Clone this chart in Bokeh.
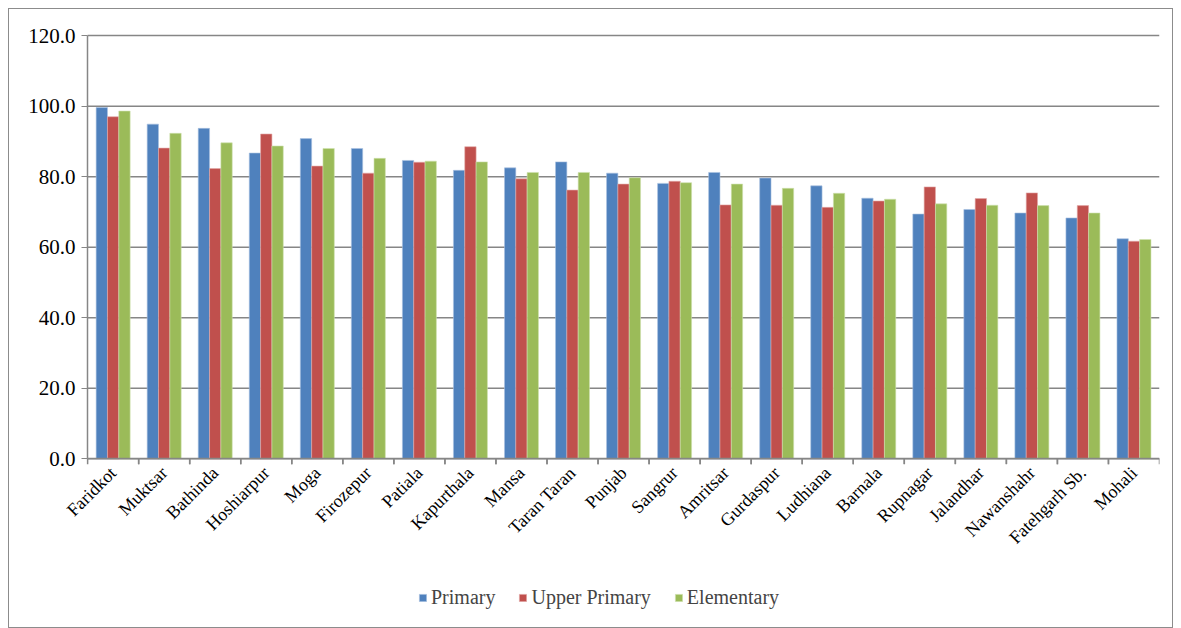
from math import pi
from bokeh.plotting import figure
from bokeh.models import (ColumnDataSource, Range1d, Legend, LegendItem, FixedTicker,
                          CustomJSTickFormatter)
from bokeh.transform import dodge
from bokeh.embed import file_html
from bokeh.resources import INLINE

districts = ["Faridkot", "Muktsar", "Bathinda", "Hoshiarpur", "Moga", "Firozepur", "Patiala",
             "Kapurthala", "Mansa", "Taran Taran", "Punjab", "Sangrur", "Amritsar", "Gurdaspur",
             "Ludhiana", "Barnala", "Rupnagar", "Jalandhar", "Nawanshahr", "Fatehgarh Sb.", "Mohali"]
primary = [99.6, 94.9, 93.7, 86.7, 90.8, 88.0, 84.6, 81.8, 82.5, 84.2, 81.0,
           78.1, 81.2, 79.6, 77.4, 73.9, 69.4, 70.7, 69.7, 68.3, 62.4]
upper_primary = [97.0, 88.1, 82.3, 92.1, 83.0, 81.0, 84.1, 88.5, 79.4, 76.2, 77.9,
                 78.7, 72.0, 71.9, 71.3, 73.1, 77.1, 73.8, 75.4, 71.8, 61.7]
elementary = [98.6, 92.3, 89.6, 88.7, 88.0, 85.2, 84.4, 84.2, 81.2, 81.2, 79.7,
              78.3, 77.9, 76.7, 75.3, 73.6, 72.3, 71.9, 71.8, 69.7, 62.2]
series_names = ["Primary", "Upper Primary", "Elementary"]
colors = ["#4F81BD", "#C0504D", "#9BBB59"]
y_ticks = [0, 20, 40, 60, 80, 100, 120]

n = len(districts)
xpos = list(range(n))
left_edge, right_edge = -0.5, n - 0.5

src = ColumnDataSource(dict(x=xpos, p=primary, u=upper_primary, e=elementary,
                            zero=[0] * n, tick=[-1.5] * n))
grid_src = ColumnDataSource(dict(y=y_ticks, x0=[left_edge] * len(y_ticks),
                                 x1=[right_edge] * len(y_ticks)))

# the frame extends left of the first category, above 120 and below zero so that the
# tick labels, rotated labels and the legend are not clipped; axes are pinned in place
p = figure(x_range=Range1d(left_edge - 1.315, right_edge), y_range=Range1d(-48.1, 124),
           width=1165, height=620, output_backend="svg", toolbar_location=None,
           min_border_left=11, min_border_right=15, min_border_top=12, min_border_bottom=1)
p.styles = {"border": "1px solid #8c8c8c", "box-sizing": "border-box",
            "margin-left": "8px", "margin-top": "8px"}
p.outline_line_color = None
p.background_fill_color = "white"
p.xgrid.visible = False
p.ygrid.visible = False

# horizontal gridlines spanning the category area only
p.segment(x0="x0", y0="y", x1="x1", y1="y", source=grid_src,
          line_color="#868686", line_width=1.5)

bw = 0.222
r1 = p.vbar(x=dodge("x", -bw), top="p", width=bw, source=src,
            fill_color=colors[0], line_color="#a9c1e0", line_width=0.6)
r2 = p.vbar(x=dodge("x", 0), top="u", width=bw, source=src,
            fill_color=colors[1], line_color="#e3a9a7", line_width=0.6)
r3 = p.vbar(x=dodge("x", bw), top="e", width=bw, source=src,
            fill_color=colors[2], line_color="#cfe0ae", line_width=0.6)

# value axis
p.yaxis.fixed_location = left_edge
p.yaxis.ticker = FixedTicker(ticks=y_ticks)
p.yaxis.bounds = (0, 120)
p.yaxis.formatter = CustomJSTickFormatter(code="return tick.toFixed(1);")
p.yaxis.minor_tick_line_color = None
p.yaxis.major_tick_in = 0
p.yaxis.major_tick_out = 6
p.yaxis.axis_line_color = "#868686"
p.yaxis.major_tick_line_color = "#868686"
p.yaxis.axis_line_width = 1.5
p.yaxis.major_label_text_font = "Liberation Serif"
p.yaxis.major_label_text_font_size = "21px"
p.yaxis.major_label_text_color = "black"
p.yaxis.major_label_standoff = 6

# category axis at y = 0
p.xaxis.fixed_location = 0
p.xaxis.bounds = (left_edge, right_edge)
p.xaxis.ticker = FixedTicker(ticks=xpos)
p.xaxis.formatter = CustomJSTickFormatter(args=dict(names=districts),
                                          code="return names[Math.round(tick)];")
p.xaxis.axis_line_color = "#868686"
p.xaxis.axis_line_width = 1.5
p.xaxis.major_tick_line_color = None
p.xaxis.minor_tick_line_color = None
p.xaxis.major_label_orientation = pi / 4
p.xaxis.major_label_text_font = "Liberation Serif"
p.xaxis.major_label_text_font_size = "18px"
p.xaxis.major_label_text_color = "black"
p.xaxis.major_label_standoff = 5

# tick marks at the category boundaries
p.segment(x0=dodge("x", -0.5), y0="zero", x1=dodge("x", -0.5), y1="tick", source=src,
          line_color="#868686", line_width=1.5)
p.segment(x0=dodge("x", 0.5), y0="zero", x1=dodge("x", 0.5), y1="tick", source=src,
          line_color="#868686", line_width=1.5)

legend = Legend(items=[LegendItem(label=series_names[0], renderers=[r1]),
                       LegendItem(label=series_names[1], renderers=[r2]),
                       LegendItem(label=series_names[2], renderers=[r3])],
                orientation="horizontal", location=(398, 19),
                label_text_font="Liberation Serif", label_text_font_size="20px",
                glyph_width=9, glyph_height=9, spacing=23, label_standoff=4,
                border_line_color=None, background_fill_alpha=0, padding=0, margin=0)
p.add_layout(legend, "center")

open("out.html", "w").write(file_html(p, INLINE))
